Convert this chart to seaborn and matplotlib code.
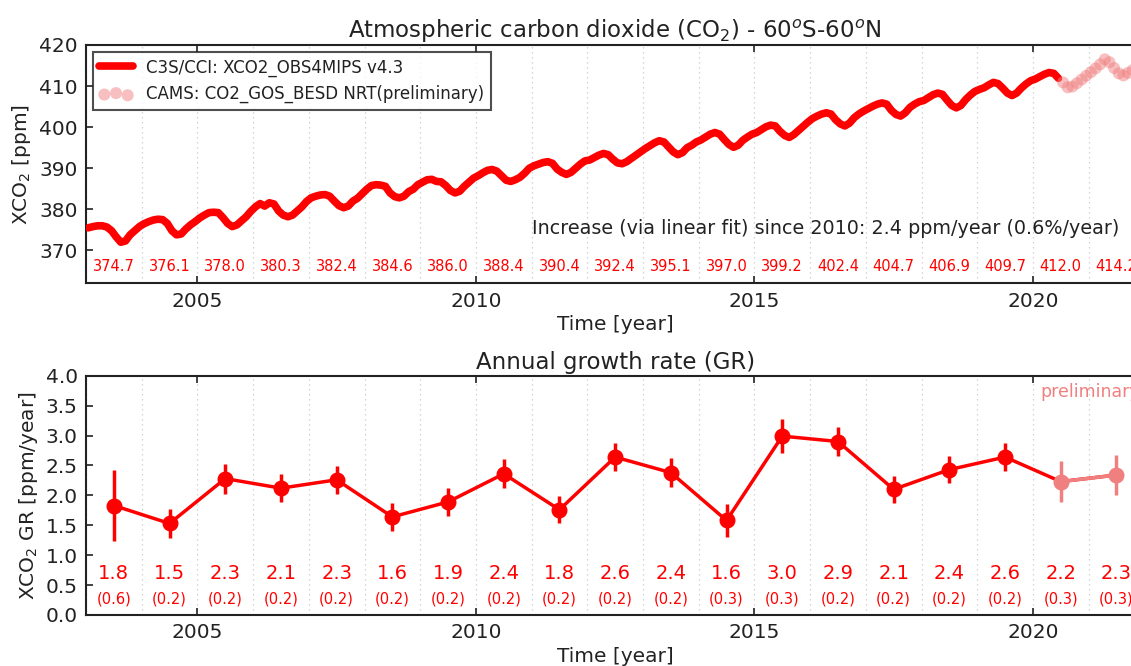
import numpy as np
import matplotlib
matplotlib.use("Agg")
import matplotlib.pyplot as plt
import seaborn as sns

# monthly XCO2 [ppm], C3S/CCI XCO2_OBS4MIPS v4.3, Jan 2003 .. Jun 2020
xco2_c3s = [
    375.5, 375.8, 376.0, 376.0, 375.7, 374.8, 373.3, 372.0, 372.3, 373.8, 374.8, 375.8,  # 2003
    376.5, 377.0, 377.4, 377.6, 377.5, 376.6, 374.8, 373.8, 374.0, 375.2, 376.2, 377.0,  # 2004
    377.9, 378.6, 379.2, 379.3, 379.2, 378.0, 376.6, 375.8, 376.2, 377.2, 378.2, 379.5,  # 2005
    380.6, 381.4, 380.8, 381.6, 381.3, 379.6, 378.6, 378.2, 378.6, 379.6, 380.6, 381.9,  # 2006
    382.8, 383.2, 383.5, 383.6, 383.2, 382.0, 380.9, 380.4, 380.8, 382.0, 382.7, 383.8,  # 2007
    384.9, 385.8, 386.0, 385.9, 385.6, 384.0, 383.1, 382.8, 383.2, 384.3, 384.9, 386.0,  # 2008
    386.6, 387.2, 387.3, 386.8, 386.7, 385.8, 384.6, 384.0, 384.4, 385.6, 386.6, 387.6,  # 2009
    388.2, 388.9, 389.5, 389.7, 389.3, 388.2, 387.1, 386.8, 387.2, 387.8, 388.8, 390.0,  # 2010
    390.6, 391.0, 391.4, 391.6, 391.2, 389.8, 389.0, 388.5, 389.0, 390.0, 391.0, 391.8,  # 2011
    392.0, 392.6, 393.2, 393.6, 393.3, 392.2, 391.3, 391.1, 391.6, 392.4, 393.2, 394.0,  # 2012
    394.8, 395.5, 396.2, 396.7, 396.4, 395.2, 394.0, 393.3, 393.8, 395.0, 395.6, 396.4,  # 2013
    396.9, 397.6, 398.3, 398.7, 398.3, 397.0, 395.8, 395.1, 395.6, 396.8, 397.6, 398.3,  # 2014
    398.7, 399.4, 400.1, 400.5, 400.3, 399.0, 398.0, 397.5, 398.2, 399.2, 400.2, 401.2,  # 2015
    402.1, 402.7, 403.2, 403.5, 403.2, 401.8, 400.8, 400.3, 401.0, 402.3, 403.2, 403.9,  # 2016
    404.5, 405.1, 405.6, 405.9, 405.6, 404.1, 403.1, 402.7, 403.5, 404.8, 405.6, 406.2,  # 2017
    406.5, 407.2, 407.9, 408.3, 408.0, 406.6, 405.3, 404.7, 405.3, 406.7, 407.8, 408.7,  # 2018
    409.2, 409.6, 410.3, 410.9, 410.6, 409.5, 408.3, 407.7, 408.3, 409.5, 410.5, 411.3,  # 2019
    411.7, 412.3, 412.9, 413.3, 413.1, 411.9,                                            # 2020
]
# monthly XCO2 [ppm], CAMS CO2_GOS_BESD NRT, Jul 2020 .. Oct 2021
xco2_cams = [410.9, 409.7, 409.9, 410.7, 411.6, 412.5,
             413.4, 414.3, 415.3, 416.5, 415.8, 414.4, 413.1, 412.6, 413.2, 413.9]

years = list(range(2003, 2022))
annual_mean = [374.7, 376.1, 378.0, 380.3, 382.4, 384.6, 386.0, 388.4, 390.4, 392.4,
               395.1, 397.0, 399.2, 402.4, 404.7, 406.9, 409.7, 412.0, 414.2]
growth_rate = [1.83, 1.53, 2.28, 2.12, 2.26, 1.64, 1.89, 2.36, 1.76, 2.64,
               2.38, 1.58, 2.99, 2.90, 2.10, 2.43, 2.64, 2.23, 2.34]
growth_err = [0.59, 0.24, 0.25, 0.23, 0.23, 0.24, 0.24, 0.24, 0.23, 0.23,
              0.24, 0.27, 0.28, 0.24, 0.22, 0.23, 0.23, 0.34, 0.34]
n_final = 17  # 2003..2019 are final, 2020/2021 preliminary

sns.set_style("ticks")
plt.rcParams['font.family'] = ['DejaVu Sans']
plt.rcParams['text.color'] = '#222222'
plt.rcParams['axes.labelcolor'] = '#222222'
plt.rcParams['xtick.color'] = '#222222'
plt.rcParams['ytick.color'] = '#222222'

t_c3s = 2003 + (np.arange(len(xco2_c3s)) + 0.5) / 12
t_cams = 2020 + (np.arange(len(xco2_cams)) + 6.5) / 12
gr_x = np.array(years) + 0.5
gr = np.array(growth_rate)
err = np.array(growth_err)

fig = plt.figure(figsize=(11.31, 6.66), dpi=100)
ax1 = fig.add_axes([86 / 1131, 1 - 283.3 / 666, 1058.3 / 1131, 238.3 / 666])
ax2 = fig.add_axes([86 / 1131, 1 - 615 / 666, 1058.3 / 1131, 239.3 / 666])

### TOP: XCO2 time series ###
sns.lineplot(x=t_c3s, y=xco2_c3s, color='red', lw=5.5, ax=ax1,
             label='C3S/CCI: XCO2_OBS4MIPS v4.3', zorder=3)
sns.scatterplot(x=t_cams, y=xco2_cams, color='lightcoral', alpha=0.5, s=75,
                edgecolor='none', ax=ax1, label='CAMS: CO2_GOS_BESD NRT(preliminary)', zorder=3)
for y, m in zip(years, annual_mean):
    ax1.text(y + 0.5, 366.0, "%.1f" % m, color='red', fontsize=10.5, ha='center', va='center')
ax1.text(2021.55, 375.4, "Increase (via linear fit) since 2010: 2.4 ppm/year (0.6%/year)",
         fontsize=13.8, ha='right', va='center')
ax1.set_ylim(362, 420)
ax1.set_yticks([370, 380, 390, 400, 410, 420])
ax1.set_ylabel("XCO$_2$ [ppm]", fontsize=14.5)
ax1.set_title("Atmospheric carbon dioxide (CO$_2$) - 60$^o$S-60$^o$N", fontsize=16.5, pad=5)
leg = ax1.legend(loc='upper left', fontsize=12, scatterpoints=3, fancybox=False,
                 frameon=True, borderaxespad=0.4, handlelength=2.0, borderpad=0.4)
leg.get_frame().set_edgecolor('#222222')
leg.get_frame().set_linewidth(1.5)

### BOTTOM: annual growth rate ###
sns.lineplot(x=gr_x[:n_final + 2], y=gr[:n_final + 2], color='red', lw=2.5, ax=ax2, zorder=3)
sns.lineplot(x=gr_x[n_final:], y=gr[n_final:], color='lightcoral', lw=2.5, ax=ax2, zorder=3)
ax2.errorbar(gr_x[:n_final], gr[:n_final], yerr=err[:n_final], fmt='o', color='red',
             ms=10.5, elinewidth=2.5, capsize=0, zorder=4)
ax2.errorbar(gr_x[n_final:], gr[n_final:], yerr=err[n_final:], fmt='o', color='lightcoral',
             ms=10.5, elinewidth=2.5, capsize=0, zorder=4)
for x, v, e in zip(gr_x, gr, err):
    ax2.text(x, 0.70, "%.1f" % v, color='red', fontsize=14, ha='center', va='center')
    ax2.text(x, 0.27, "(%.1f)" % e, color='red', fontsize=10.5, ha='center', va='center')
ax2.text(2020.13, 3.73, "preliminary", color='lightcoral', fontsize=12.5, ha='left', va='center')
ax2.set_ylim(0, 4)
ax2.set_yticks(np.arange(0, 4.01, 0.5))
ax2.set_ylabel("XCO$_2$ GR [ppm/year]", fontsize=14.5)
ax2.set_title("Annual growth rate (GR)", fontsize=16.5, pad=5)

for ax in (ax1, ax2):
    ax.set_xlim(2003, 2022)
    ax.set_xticks([2005, 2010, 2015, 2020])
    ax.set_xticks(years, minor=True)
    ax.set_xlabel("Time [year]", fontsize=14.5, labelpad=3)
    ax.tick_params(which='major', direction='in', top=True, right=True, length=5,
                   width=1.2, labelsize=14.5, pad=6)
    ax.tick_params(which='minor', length=0)
    ax.grid(True, which='both', axis='x', ls=(0, (1, 3)), color='#c8c8c8', lw=0.9)
    for s in ax.spines.values():
        s.set_color('#222222')
        s.set_linewidth(1.5)

fig.savefig("out.png", dpi=100)
